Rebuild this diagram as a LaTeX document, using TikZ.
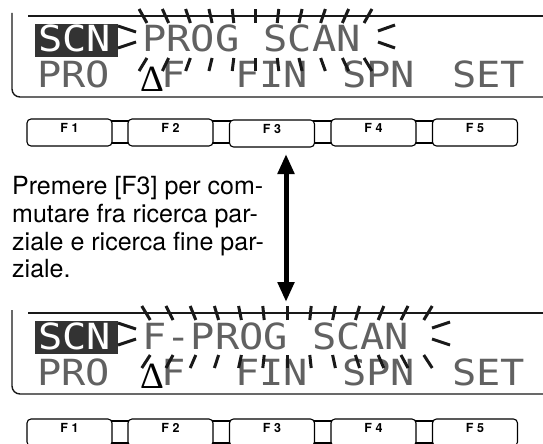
\documentclass[tikz,border=0pt]{standalone}
\usepackage{fontspec}
\setmainfont{TeX Gyre Heros}
\newfontfamily\lcdfont[FakeStretch=1.12]{DejaVu Sans Mono}
\newfontfamily\symfont{Liberation Serif}
\usetikzlibrary{positioning,arrows.meta}
\tikzset{
  lcd/.style={font=\lcdfont\fontsize{36}{36}\selectfont,text=black!62,inner sep=0pt,anchor=base west},
  frame/.style={line width=2.2pt,black!90},
  ray/.style={line width=3pt,black!90},
  fkey/.style={draw,line width=1.1pt,fill=white,rounded corners=4pt,minimum width=85pt,minimum height=27pt,inner sep=0pt,text height=8.5pt,text depth=9.5pt,font=\bfseries\fontsize{12.5}{12.5}\selectfont},
  dblarr/.style={{Triangle[length=20pt,width=16pt]}-{Triangle[length=20pt,width=16pt]},line width=5pt}
}

\begin{document}
\begin{tikzpicture}[x=1pt,y=-1pt]
\useasboundingbox (0,0) rectangle (543,444);

% upper display
\draw[frame,line width=1.4pt,rounded corners=8pt] (12,13) -- (12,97) -- (545,97);
\draw[frame] (28,16) -- (545,16);
\fill[black!80] (35,24) rectangle (118,57);
\node[lcd,text=white] (scnA) at (38,52) {SCN};
\node[lcd] (progA) at (142,52) {PROG SCAN};
\node[lcd] (proA) at (37,88) {PRO};
\node[font=\symfont\fontsize{37}{37}\selectfont,inner sep=0pt,anchor=base west] (deltaA) at (140,91) {Δ};
\node[lcd] (fA) at (161,88) {F};
\node[lcd] (finA) at (235,88) {FIN};
\node[lcd] (spnA) at (342,88) {SPN};
\node[lcd] (setA) at (452,88) {SET};
\draw[ray] (118,26) -- (136,32);
\draw[ray] (118,48) -- (136,42);
\draw[ray] (395,25) -- (378,31);
\draw[ray] (378,42) -- (395,48);
\foreach \i in {0,...,10}{
  \pgfmathsetmacro\tx{143+22.5*\i}
  \pgfmathsetmacro\ts{0.07*(\tx-255.5)}
  \draw[ray] ({\tx-\ts/2},23) -- ({\tx+\ts/2},9);
  \draw[ray] ({\tx-\ts/2},58) -- ({\tx+\ts/2},71);
}

% upper function keys
\draw[line width=1.1pt] (30,121) rectangle (514,143);
\node[fkey] (f1a) at (69.5,132.5) {F 1};
\node[fkey] (f2a) at (170.5,132.5) {F 2};
\node[fkey] (f3a) at (272,133.5) {F 3};
\node[fkey] (f4a) at (373.5,132.5) {F 4};
\node[fkey] (f5a) at (475,132.5) {F 5};

% note and toggle arrow
\node[font=\fontsize{25}{27.8}\selectfont,align=left,anchor=north west,inner sep=0pt] (note) at (12,176)
  {Premere [F3] per com-\\mutare fra ricerca par-\\ziale e ricerca fine par-\\ziale.};
\coordinate (arrtop) at (286,154);
\coordinate (arrbot) at (286,302);
\draw[dblarr] (arrtop) -- (arrbot);

% lower display
\draw[frame,line width=1.4pt,rounded corners=8pt] (12,310) -- (12,394) -- (545,394);
\draw[frame] (28,313) -- (545,313);
\fill[black!80] (35,321) rectangle (118,354);
\node[lcd,text=white] (scnB) at (38,349) {SCN};
\node[lcd] (progB) at (142,349) {F-PROG SCAN};
\node[lcd] (proB) at (37,385) {PRO};
\node[font=\symfont\fontsize{37}{37}\selectfont,inner sep=0pt,anchor=base west] (deltaB) at (140,388) {Δ};
\node[lcd] (fB) at (161,385) {F};
\node[lcd] (finB) at (235,385) {FIN};
\node[lcd] (spnB) at (342,385) {SPN};
\node[lcd] (setB) at (452,385) {SET};
\draw[ray] (118,323) -- (136,329);
\draw[ray] (118,345) -- (136,339);
\draw[ray] (450,322) -- (432,328);
\draw[ray] (432,339) -- (450,345);
\foreach \i in {0,...,12}{
  \pgfmathsetmacro\tx{146+23.5*\i}
  \pgfmathsetmacro\ts{0.06*(\tx-287)}
  \draw[ray] ({\tx-\ts/2},320) -- ({\tx+\ts/2},306);
  \draw[ray] ({\tx-\ts/2},355) -- ({\tx+\ts/2},368);
}

% lower function keys
\draw[line width=1.1pt] (30,421) rectangle (514,443);
\node[fkey] (f1b) at (69.5,432.5) {F 1};
\node[fkey] (f2b) at (170.5,432.5) {F 2};
\node[fkey] (f3b) at (272,432.5) {F 3};
\node[fkey] (f4b) at (373.5,432.5) {F 4};
\node[fkey] (f5b) at (475,432.5) {F 5};
\end{tikzpicture}
\end{document}
